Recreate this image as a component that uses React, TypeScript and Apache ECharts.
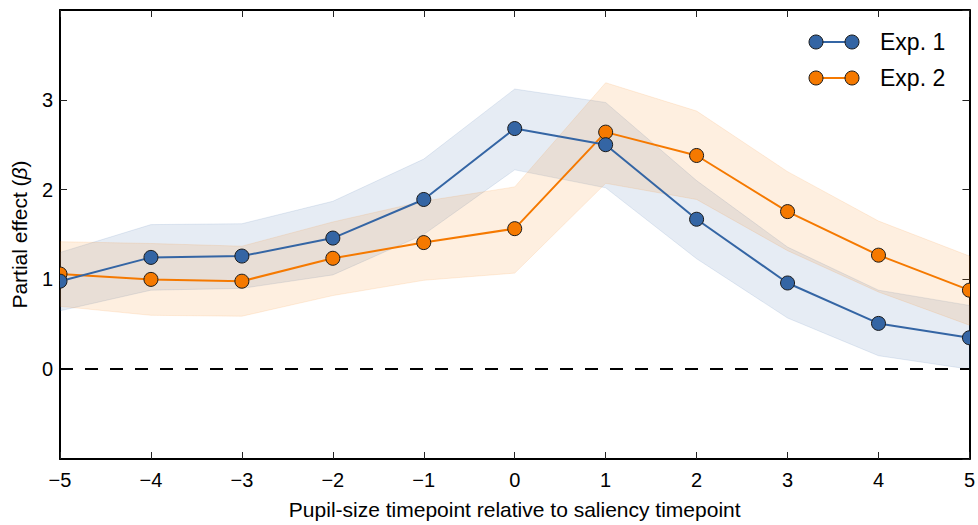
import React, { useEffect, useRef } from "react";
import * as echarts from "echarts";

const timepoints = [-5, -4, -3, -2, -1, 0, 1, 2, 3, 4, 5];
const exp1 = [0.98, 1.245, 1.26, 1.46, 1.89, 2.68, 2.5, 1.67, 0.96, 0.51, 0.35];
const exp2 = [1.06, 1.0, 0.98, 1.235, 1.41, 1.565, 2.64, 2.38, 1.755, 1.27, 0.88];
const exp1Lower = [0.65, 0.88, 0.9, 1.05, 1.5, 2.22, 2.02, 1.23, 0.57, 0.15, 0.0];
const exp1Upper = [1.3, 1.61, 1.62, 1.87, 2.34, 3.12, 2.97, 2.1, 1.36, 0.88, 0.71];
const exp2Lower = [0.7, 0.6, 0.59, 0.82, 0.99, 1.07, 2.07, 1.89, 1.32, 0.86, 0.49];
const exp2Upper = [1.42, 1.4, 1.37, 1.64, 1.87, 2.03, 3.19, 2.875, 2.2, 1.65, 1.26];
const seriesNames = ["Exp. 1", "Exp. 2"];

const BLUE = "#3465a4";
const ORANGE = "#f57900";
const FONT = "Liberation Sans, Arial, sans-serif";

const pairs = (ys: number[]) => timepoints.map((x, i) => [x, ys[i]]);
const fmt = (v: number) => (v < 0 ? "\u2212" + Math.abs(v) : String(v));

function bandSeries(name: string, lo: number[], hi: number[], color: string, z: number) {
  return {
    type: "custom",
    name,
    data: [[timepoints[0], lo[0]]],
    encode: { x: 0, y: 1 },
    clip: true,
    silent: true,
    z,
    renderItem: (_p: any, api: any) => {
      const upper = timepoints.map((x, i) => api.coord([x, hi[i]]));
      const lower = timepoints.map((x, i) => api.coord([x, lo[i]])).reverse();
      return {
        type: "polygon",
        shape: { points: upper.concat(lower) },
        style: { fill: color, opacity: 0.12, stroke: color, lineWidth: 1 },
      };
    },
  };
}

function markerSeries(name: string, ys: number[], color: string, z: number) {
  return {
    type: "custom",
    name,
    data: pairs(ys),
    encode: { x: 0, y: 1 },
    clip: true,
    z,
    renderItem: (_p: any, api: any) => {
      const pt = api.coord([api.value(0), api.value(1)]);
      return {
        type: "circle",
        shape: { cx: pt[0], cy: pt[1], r: 7 },
        style: { fill: color, stroke: "#1a1a1a", lineWidth: 1 },
      };
    },
  };
}

function legendRow(y: number, color: string, label: string) {
  return {
    type: "group",
    children: [
      { type: "line", shape: { x1: 816, y1: y, x2: 852, y2: y }, style: { stroke: color, lineWidth: 2 } },
      { type: "circle", shape: { cx: 816, cy: y, r: 7 }, style: { fill: color, stroke: "#1a1a1a", lineWidth: 1 } },
      { type: "circle", shape: { cx: 852, cy: y, r: 7 }, style: { fill: color, stroke: "#1a1a1a", lineWidth: 1 } },
      {
        type: "text",
        x: 880,
        y,
        style: { text: label, fill: "#000", font: `23px ${FONT}`, verticalAlign: "middle", align: "left" },
      },
    ],
  };
}

export default function App() {
  const ref = useRef<HTMLDivElement>(null);
  useEffect(() => {
    if (!ref.current) return;
    const chart = echarts.init(ref.current, undefined, { renderer: "svg" });
    const axisLine = { show: true, onZero: false, lineStyle: { color: "#000", width: 2 } };
    const axisTick = { show: true, inside: true, length: 7, lineStyle: { color: "#222", width: 1 } };
    chart.setOption({
      animation: false,
      backgroundColor: "#fff",
      grid: { left: 60, right: 5, top: 10, bottom: 61, containLabel: false },
      xAxis: [
        {
          type: "value",
          min: -5,
          max: 5,
          interval: 1,
          position: "bottom",
          axisLine,
          axisTick,
          splitLine: { show: false },
          axisLabel: { color: "#000", fontSize: 20, fontFamily: FONT, margin: 11, formatter: fmt },
          name: "Pupil-size timepoint relative to saliency timepoint",
          nameLocation: "middle",
          nameGap: 40,
          nameTextStyle: { color: "#000", fontSize: 21, fontFamily: FONT },
        },
        {
          type: "value",
          min: -5,
          max: 5,
          interval: 1,
          position: "top",
          axisLine,
          axisTick,
          splitLine: { show: false },
          axisLabel: { show: false },
        },
      ],
      yAxis: [
        {
          type: "value",
          min: -1,
          max: 4,
          interval: 1,
          position: "left",
          axisLine,
          axisTick,
          splitLine: { show: false },
          axisLabel: {
            color: "#000",
            fontSize: 20,
            fontFamily: FONT,
            margin: 7,
            showMinLabel: false,
            showMaxLabel: false,
            formatter: fmt,
          },
          name: "Partial effect ({i|\u03b2})",
          nameLocation: "middle",
          nameGap: 30,
          nameTextStyle: {
            color: "#000",
            fontSize: 21,
            fontFamily: FONT,
            rich: { i: { fontStyle: "italic", fontSize: 21, fontFamily: FONT, color: "#000" } },
          },
        },
        {
          type: "value",
          min: -1,
          max: 4,
          interval: 1,
          position: "right",
          axisLine,
          axisTick,
          splitLine: { show: false },
          axisLabel: { show: false },
        },
      ],
      series: [
        bandSeries(seriesNames[0] + " band", exp1Lower, exp1Upper, BLUE, 1),
        bandSeries(seriesNames[1] + " band", exp2Lower, exp2Upper, ORANGE, 1),
        {
          type: "line",
          id: "zero",
          data: [],
          markLine: {
            silent: true,
            symbol: "none",
            label: { show: false },
            lineStyle: { color: "#000", width: 2, type: [13, 12] },
            data: [{ yAxis: 0 }],
          },
          z: 2,
        },
        {
          type: "line",
          name: seriesNames[1],
          data: pairs(exp2),
          symbol: "none",
          lineStyle: { color: ORANGE, width: 2 },
          z: 3,
        },
        {
          type: "line",
          name: seriesNames[0],
          data: pairs(exp1),
          symbol: "none",
          lineStyle: { color: BLUE, width: 2 },
          z: 3,
        },
        markerSeries(seriesNames[1] + " markers", exp2, ORANGE, 4),
        markerSeries(seriesNames[0] + " markers", exp1, BLUE, 5),
      ],
      graphic: [legendRow(42, BLUE, seriesNames[0]), legendRow(78, ORANGE, seriesNames[1])],
    });
    return () => chart.dispose();
  }, []);
  return (
    <div
      ref={ref}
      style={{ position: "fixed", left: 0, top: 0, width: 978, height: 525, background: "#fff" }}
    />
  );
}
